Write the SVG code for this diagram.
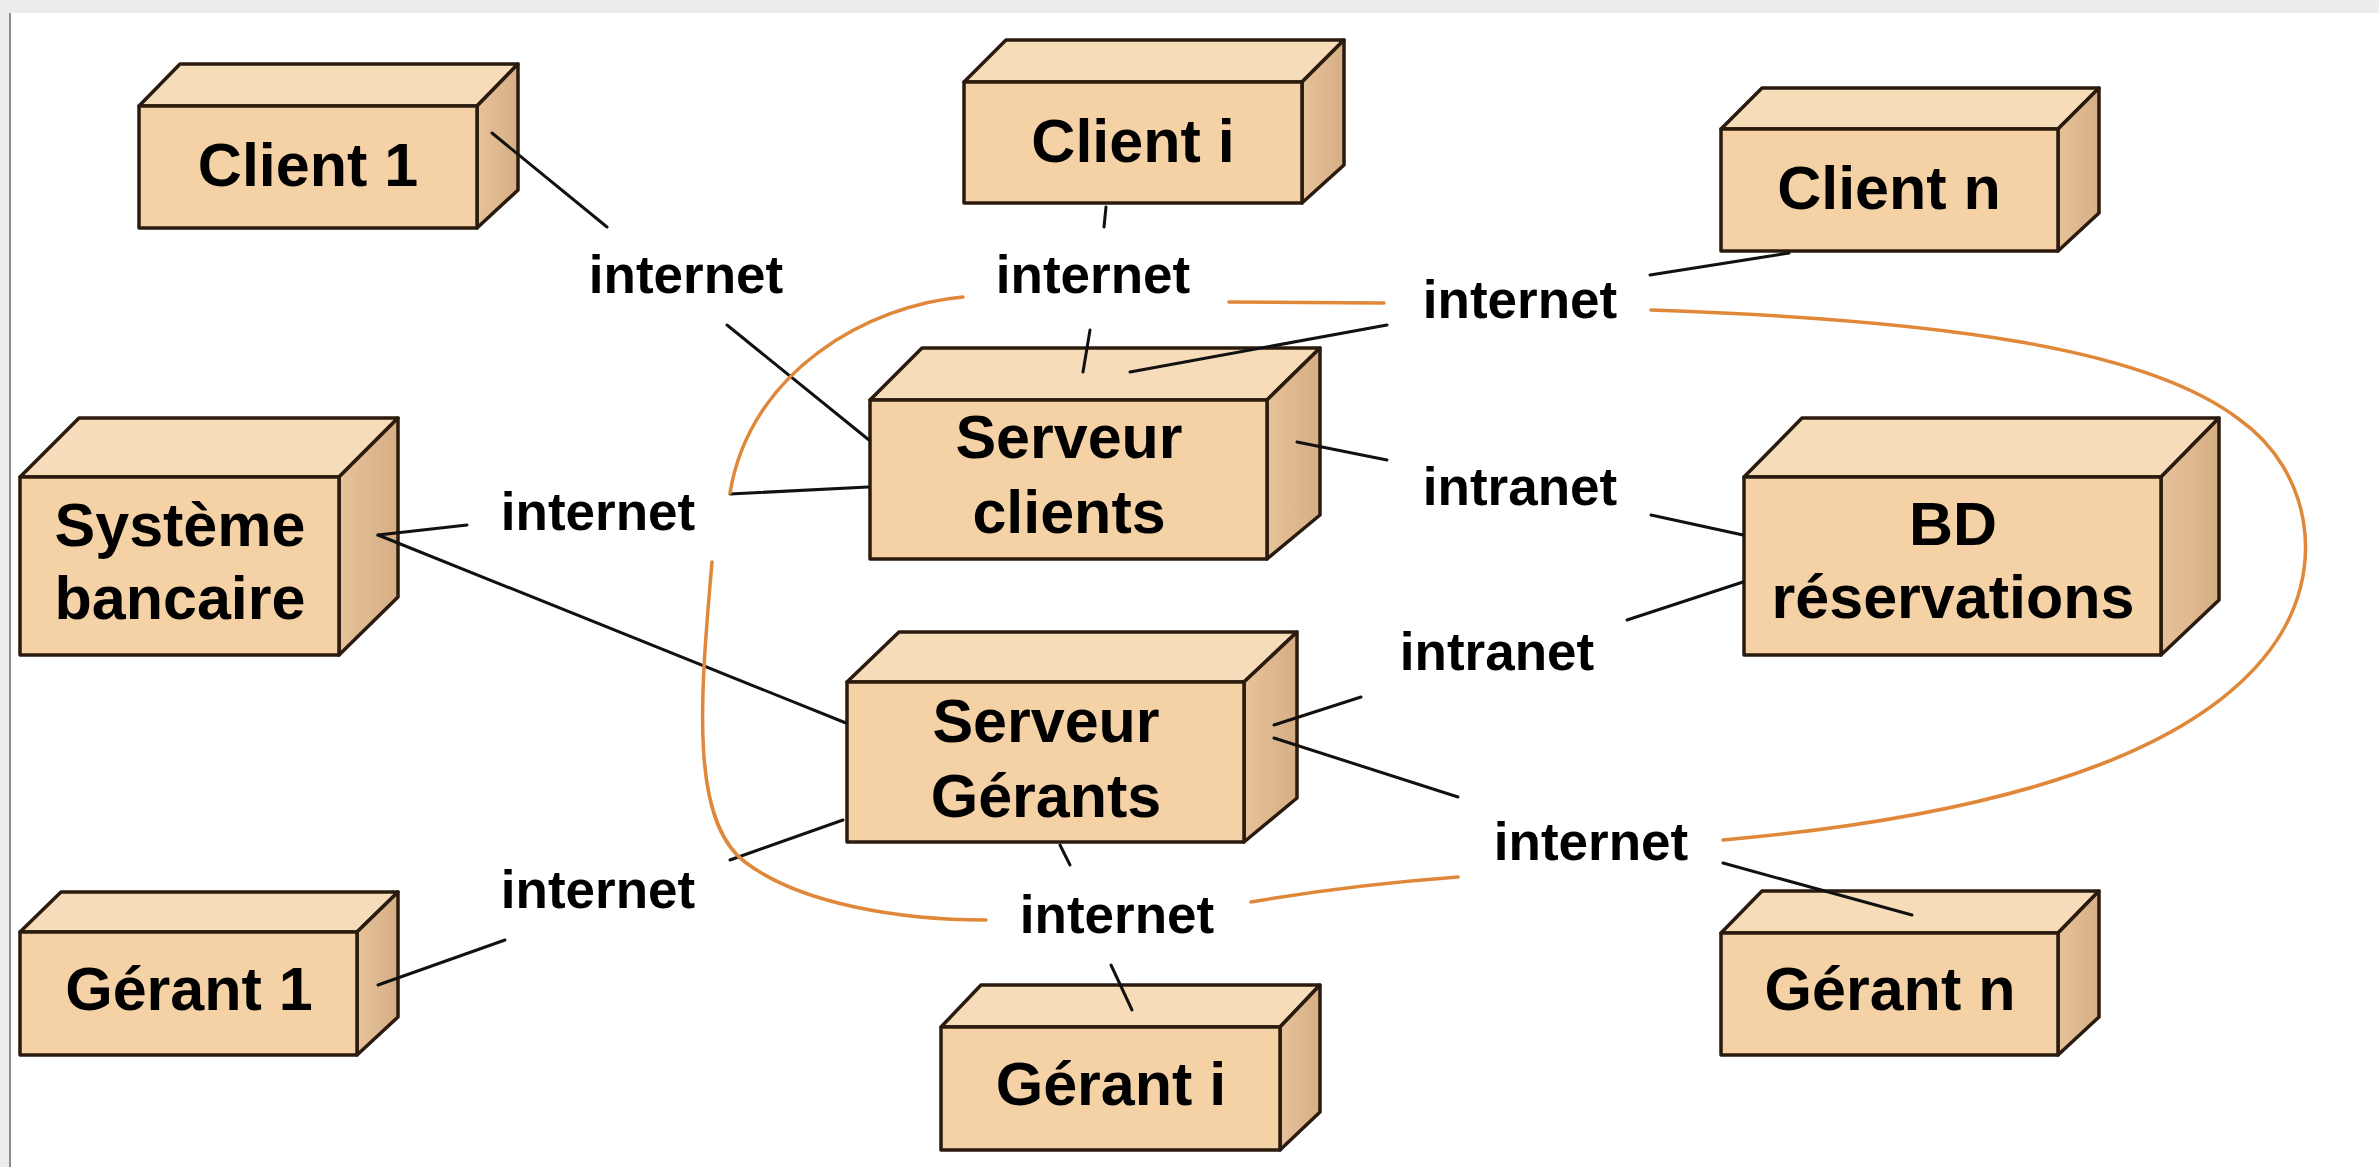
<svg xmlns="http://www.w3.org/2000/svg" width="2379" height="1167" viewBox="0 0 2379 1167">
<defs>
<style>
.front{fill:#F5D2A6;stroke:#2B1B0E;stroke-width:3.5;stroke-linejoin:round}
.top{fill:#F6DCB9;stroke:#2B1B0E;stroke-width:3.5;stroke-linejoin:round}
.side{fill:url(#sideGrad);stroke:#2B1B0E;stroke-width:3.5;stroke-linejoin:round}
.nl{font-family:"Liberation Sans",Arial,sans-serif;font-weight:bold;font-size:61px;fill:#000;text-anchor:middle}
.ll{font-family:"Liberation Sans",Arial,sans-serif;font-weight:bold;font-size:53px;fill:#000;text-anchor:middle}
.wire{stroke:#111;stroke-width:3;fill:none;stroke-linecap:round}
.cloud{stroke:#E0883A;stroke-width:3.5;fill:none;stroke-linecap:round}
</style>
<linearGradient id="sideGrad" x1="0" y1="0" x2="1" y2="0">
<stop offset="0" stop-color="#E6C29A"/>
<stop offset="1" stop-color="#D6AE84"/>
</linearGradient>
</defs>
<rect x="0" y="0" width="2379" height="1167" fill="#EDEDED"/>
<rect x="11" y="13" width="2368" height="1154" fill="#FFFFFF"/>
<line x1="10" y1="13" x2="10" y2="1167" stroke="#8A8A8A" stroke-width="2"/>

<g id="client1">
<polygon class="top" points="139,106 180,64 518,64 477,106"/>
<polygon class="side" points="477,106 518,64 518,190 477,228"/>
<rect class="front" x="139" y="106" width="338" height="122"/>
<text class="nl" x="308" y="186">Client 1</text>
</g>

<g id="clienti">
<polygon class="top" points="964,82 1006,40 1344,40 1302,82"/>
<polygon class="side" points="1302,82 1344,40 1344,165 1302,203"/>
<rect class="front" x="964" y="82" width="338" height="121"/>
<text class="nl" x="1133" y="162">Client i</text>
</g>

<g id="clientn">
<polygon class="top" points="1721,129 1762,88 2099,88 2058,129"/>
<polygon class="side" points="2058,129 2099,88 2099,213 2058,251"/>
<rect class="front" x="1721" y="129" width="337" height="122"/>
<text class="nl" x="1889" y="209">Client n</text>
</g>

<g id="systeme-bancaire">
<polygon class="top" points="20,477 79,418 398,418 339,477"/>
<polygon class="side" points="339,477 398,418 398,597 339,655"/>
<rect class="front" x="20" y="477" width="319" height="178"/>
<text class="nl" x="180" y="546">Système</text>
<text class="nl" x="180" y="619">bancaire</text>
</g>

<g id="serveur-clients">
<polygon class="top" points="870,400 922,348 1320,348 1267,400"/>
<polygon class="side" points="1267,400 1320,348 1320,515 1267,559"/>
<rect class="front" x="870" y="400" width="397" height="159"/>
<text class="nl" x="1069" y="458">Serveur</text>
<text class="nl" x="1069" y="533">clients</text>
</g>

<g id="bd-reservations">
<polygon class="top" points="1744,477 1802,418 2219,418 2161,477"/>
<polygon class="side" points="2161,477 2219,418 2219,600 2161,655"/>
<rect class="front" x="1744" y="477" width="417" height="178"/>
<text class="nl" x="1953" y="545">BD</text>
<text class="nl" x="1953" y="618">réservations</text>
</g>

<g id="serveur-gerants">
<polygon class="top" points="847,682 899,632 1297,632 1244,682"/>
<polygon class="side" points="1244,682 1297,632 1297,798 1244,842"/>
<rect class="front" x="847" y="682" width="397" height="160"/>
<text class="nl" x="1046" y="742">Serveur</text>
<text class="nl" x="1046" y="817">Gérants</text>
</g>

<g id="gerant1">
<polygon class="top" points="20,932 61,892 398,892 357,932"/>
<polygon class="side" points="357,932 398,892 398,1017 357,1055"/>
<rect class="front" x="20" y="932" width="337" height="123"/>
<text class="nl" x="189" y="1010">Gérant 1</text>
</g>

<g id="geranti">
<polygon class="top" points="941,1027 981,985 1320,985 1280,1027"/>
<polygon class="side" points="1280,1027 1320,985 1320,1112 1280,1150"/>
<rect class="front" x="941" y="1027" width="339" height="123"/>
<text class="nl" x="1111" y="1105">Gérant i</text>
</g>

<g id="gerantn">
<polygon class="top" points="1721,933 1762,891 2099,891 2058,933"/>
<polygon class="side" points="2058,933 2099,891 2099,1017 2058,1055"/>
<rect class="front" x="1721" y="933" width="337" height="122"/>
<text class="nl" x="1890" y="1010">Gérant n</text>
</g>

<g id="connectors">
<line class="wire" x1="492" y1="133" x2="607" y2="227"/>
<line class="wire" x1="727" y1="325" x2="869" y2="440"/>
<line class="wire" x1="1106" y1="207" x2="1104" y2="227"/>
<line class="wire" x1="1090" y1="330" x2="1083" y2="372"/>
<line class="wire" x1="1387" y1="325" x2="1130" y2="372"/>
<line class="wire" x1="1789" y1="253" x2="1650" y2="275"/>
<line class="wire" x1="378" y1="535" x2="467" y2="525"/>
<line class="wire" x1="730" y1="494" x2="868" y2="487"/>
<line class="wire" x1="378" y1="535" x2="846" y2="723"/>
<line class="wire" x1="1297" y1="442" x2="1387" y2="460"/>
<line class="wire" x1="1651" y1="515" x2="1743" y2="535"/>
<line class="wire" x1="1743" y1="582" x2="1627" y2="620"/>
<line class="wire" x1="1274" y1="725" x2="1361" y2="697"/>
<line class="wire" x1="1274" y1="738" x2="1458" y2="797"/>
<line class="wire" x1="1723" y1="863" x2="1912" y2="915"/>
<line class="wire" x1="1060" y1="845" x2="1070" y2="865"/>
<line class="wire" x1="1111" y1="965" x2="1132" y2="1010"/>
<line class="wire" x1="378" y1="985" x2="505" y2="940"/>
<line class="wire" x1="730" y1="860" x2="843" y2="820"/>
<path class="cloud" d="M963 297 C870 305 750 370 730 493"/>
<path class="cloud" d="M712 562 C700 700 690 820 745 862 C800 904 900 920 986 920"/>
<path class="cloud" d="M1251 902 Q1350 885 1458 877"/>
<path class="cloud" d="M1723 840 C1950 820 2180 770 2270 650 C2330 570 2310 470 2240 420 C2150 350 1950 320 1651 310"/>
<path class="cloud" d="M1384 303 L1229 302"/>
<text class="ll" x="686" y="293">internet</text>
<text class="ll" x="1093" y="293">internet</text>
<text class="ll" x="1520" y="318">internet</text>
<text class="ll" x="598" y="530">internet</text>
<text class="ll" x="1520" y="505">intranet</text>
<text class="ll" x="1497" y="670">intranet</text>
<text class="ll" x="1591" y="860">internet</text>
<text class="ll" x="1117" y="933">internet</text>
<text class="ll" x="598" y="908">internet</text>
</g>
</svg>
